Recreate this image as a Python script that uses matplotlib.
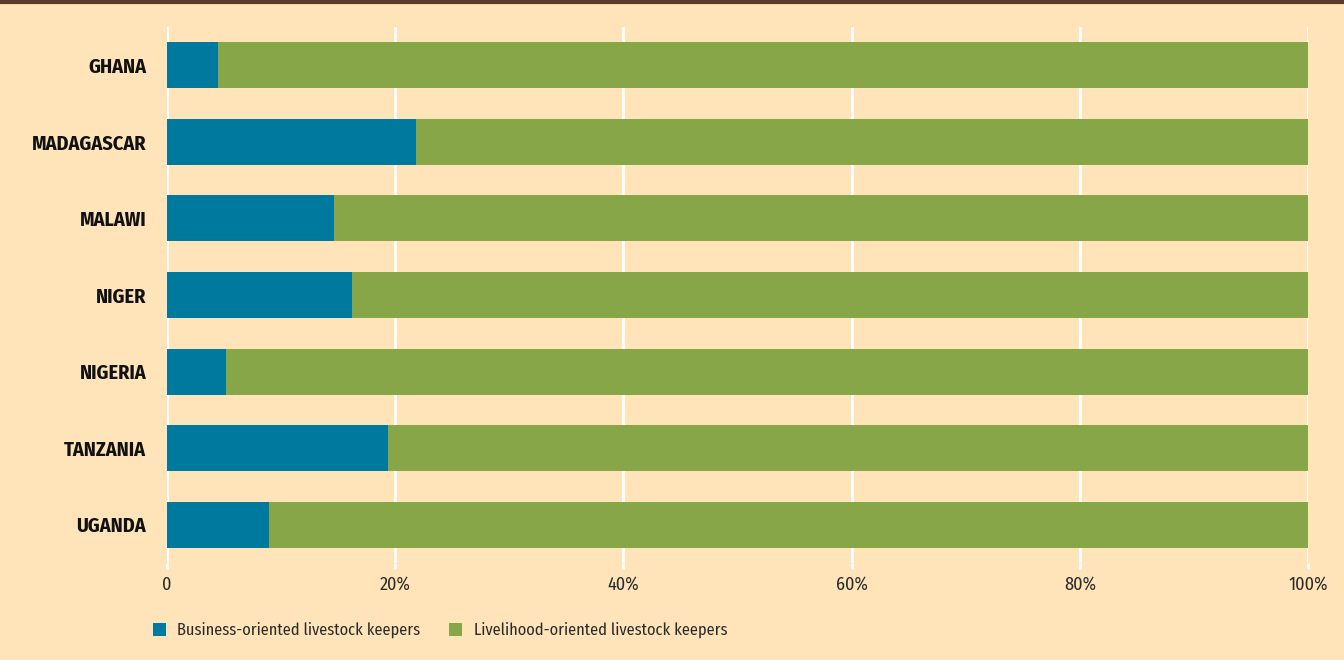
import matplotlib
matplotlib.use("Agg")
import matplotlib.pyplot as plt
from matplotlib.patches import Patch
from matplotlib.lines import Line2D

countries = ["GHANA", "MADAGASCAR", "MALAWI", "NIGER", "NIGERIA", "TANZANIA", "UGANDA"]
business = [4.5, 21.8, 14.6, 16.2, 5.2, 19.4, 8.9]
livelihood = [100 - b for b in business]
xticks = [0, 20, 40, 60, 80, 100]
xticklabels = ["0", "20%", "40%", "60%", "80%", "100%"]
series_names = ["Business-oriented livestock keepers", "Livelihood-oriented livestock keepers"]

BG = "#FEE4B8"
BLUE = "#00799F"
GREEN = "#86A648"
FAM = ['Fira Sans Condensed', 'DejaVu Sans']
plt.rcParams['font.family'] = FAM

fig = plt.figure(figsize=(13.44, 6.60), dpi=100, facecolor=BG)
ax = fig.add_axes([167/1344, 1 - 563/660, (1308-167)/1344, (563-27)/660])
ax.set_facecolor(BG)

y = list(range(len(countries)))
ax.barh(y, business, height=0.6, color=BLUE, zorder=3)
ax.barh(y, livelihood, left=business, height=0.6, color=GREEN, zorder=3)

ax.set_xlim(0, 100)
ax.set_ylim(len(countries) - 0.5, -0.5)
ax.set_yticks(y)
ax.set_yticklabels(countries, fontweight="bold", fontsize=14.5, color="#111111")
ax.set_xticks(xticks)
ax.set_xticklabels(xticklabels, fontsize=13, fontweight="normal", color="#2a2a2a")
ax.tick_params(axis="y", length=0, pad=15)
ax.tick_params(axis="x", length=4, color="white", width=2, pad=5, direction="out")
ax.grid(axis="x", color="white", linewidth=2, zorder=0)
for s in ax.spines.values():
    s.set_visible(False)

fig.add_artist(Line2D([0, 1], [1 - 1.5/660, 1 - 1.5/660], color="#5A3A2C", linewidth=3,
                      transform=fig.transFigure))

handles = [Patch(facecolor=BLUE, edgecolor="none"), Patch(facecolor=GREEN, edgecolor="none")]
fig.legend(handles, series_names, loc="center left", bbox_to_anchor=(138/1344, 1 - 630/660),
           ncol=2, frameon=False, prop={"family": FAM, "size": 11.8, "weight": "normal"},
           handlelength=0.8, handleheight=0.85, handletextpad=0.7, columnspacing=1.75,
           labelcolor="#2a2a2a")

fig.savefig("out.png", dpi=100, facecolor=BG)
